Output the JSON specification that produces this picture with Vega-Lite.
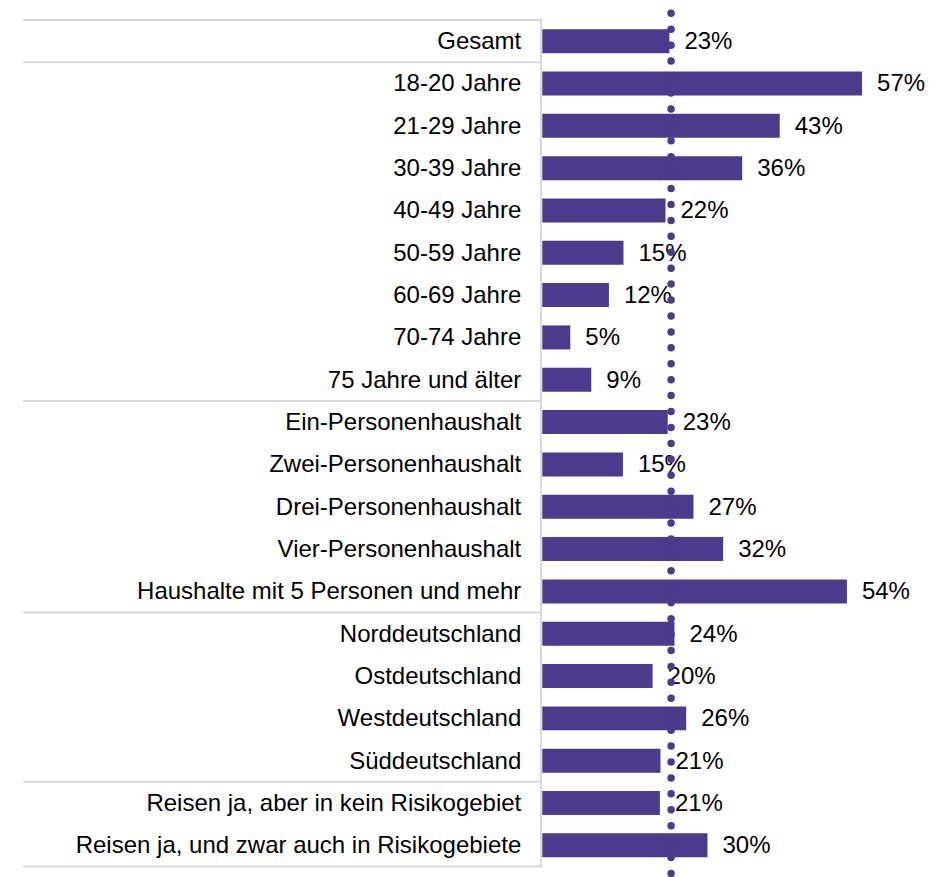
{
  "$schema": "https://vega.github.io/schema/vega-lite/v6.json",
  "width": 935,
  "height": 877,
  "autosize": {"type": "none"},
  "padding": 0,
  "background": "#ffffff",
  "config": {"view": {"stroke": null}, "font": "Liberation Sans"},
  "data": {
    "values": [
      {"cat": "Gesamt", "value": 0.227, "label": "23%", "group": "Gesamt"},
      {"cat": "18-20 Jahre", "value": 0.571, "label": "57%", "group": "Alter"},
      {"cat": "21-29 Jahre", "value": 0.424, "label": "43%", "group": "Alter"},
      {"cat": "30-39 Jahre", "value": 0.357, "label": "36%", "group": "Alter"},
      {"cat": "40-49 Jahre", "value": 0.220, "label": "22%", "group": "Alter"},
      {"cat": "50-59 Jahre", "value": 0.145, "label": "15%", "group": "Alter"},
      {"cat": "60-69 Jahre", "value": 0.119, "label": "12%", "group": "Alter"},
      {"cat": "70-74 Jahre", "value": 0.050, "label": "5%", "group": "Alter"},
      {"cat": "75 Jahre und älter", "value": 0.0875, "label": "9%", "group": "Alter"},
      {"cat": "Ein-Personenhaushalt", "value": 0.224, "label": "23%", "group": "Haushalt"},
      {"cat": "Zwei-Personenhaushalt", "value": 0.144, "label": "15%", "group": "Haushalt"},
      {"cat": "Drei-Personenhaushalt", "value": 0.270, "label": "27%", "group": "Haushalt"},
      {"cat": "Vier-Personenhaushalt", "value": 0.323, "label": "32%", "group": "Haushalt"},
      {"cat": "Haushalte mit 5 Personen und mehr", "value": 0.544, "label": "54%", "group": "Haushalt"},
      {"cat": "Norddeutschland", "value": 0.236, "label": "24%", "group": "Region"},
      {"cat": "Ostdeutschland", "value": 0.197, "label": "20%", "group": "Region"},
      {"cat": "Westdeutschland", "value": 0.257, "label": "26%", "group": "Region"},
      {"cat": "Süddeutschland", "value": 0.211, "label": "21%", "group": "Region"},
      {"cat": "Reisen ja, aber in kein Risikogebiet", "value": 0.210, "label": "21%", "group": "Reisen"},
      {"cat": "Reisen ja, und zwar auch in Risikogebiete", "value": 0.295, "label": "30%", "group": "Reisen"}
    ]
  },
  "transform": [
    {"window": [{"op": "row_number", "as": "rn"}], "groupby": ["group"]}
  ],
  "layer": [
    {
      "mark": {"type": "rule", "color": "#d9d9d9", "strokeWidth": 2},
      "encoding": {
        "x": {"datum": -0.9273, "type": "quantitative", "axis": null,
              "scale": {"domain": [-0.9684, 0.7013], "nice": false, "zero": false}},
        "x2": {"datum": 0},
        "y": {"field": "cat", "type": "nominal", "sort": null, "axis": null, "bandPosition": 0,
              "scale": {"paddingInner": 0, "paddingOuter": 0.36, "align": 0.656}},
        "strokeOpacity": {"condition": {"test": "datum.rn == 1", "value": 1}, "value": 0}
      }
    },
    {
      "mark": {"type": "rule", "color": "#d9d9d9", "strokeWidth": 2},
      "encoding": {
        "x": {"datum": -0.9273, "type": "quantitative"},
        "x2": {"datum": 0},
        "y": {"field": "cat", "type": "nominal", "sort": null, "bandPosition": 1},
        "strokeOpacity": {"condition": {"test": "datum.cat == 'Reisen ja, und zwar auch in Risikogebiete'", "value": 1}, "value": 0}
      }
    },
    {
      "mark": {"type": "bar", "color": "#d9d9d9", "height": {"band": 1}},
      "encoding": {
        "x": {"datum": -0.0041, "type": "quantitative"},
        "x2": {"datum": -0.0005},
        "y": {"field": "cat", "type": "nominal", "sort": null}
      }
    },
    {
      "mark": {"type": "bar", "color": "#4c3a8c", "height": {"band": 0.567}},
      "encoding": {
        "x": {"field": "value", "type": "quantitative"},
        "y": {"field": "cat", "type": "nominal", "sort": null}
      }
    },
    {
      "mark": {"type": "text", "align": "right", "baseline": "middle", "dx": -21, "dy": 1, "fontSize": 24, "color": "#000000"},
      "encoding": {
        "x": {"datum": 0, "type": "quantitative"},
        "y": {"field": "cat", "type": "nominal", "sort": null},
        "text": {"field": "cat"}
      }
    },
    {
      "mark": {"type": "text", "align": "left", "baseline": "middle", "dx": 15, "dy": 1, "fontSize": 24, "color": "#000000"},
      "encoding": {
        "x": {"field": "value", "type": "quantitative"},
        "y": {"field": "cat", "type": "nominal", "sort": null},
        "text": {"field": "label"}
      }
    },
    {
      "transform": [{"filter": "datum.cat == 'Gesamt'"}],
      "mark": {"type": "rule", "color": "#4c3a8c", "strokeWidth": 7.5, "strokeCap": "round", "strokeDash": [0, 15.93], "strokeDashOffset": 2.63},
      "encoding": {
        "x": {"datum": 0.23, "type": "quantitative"}
      }
    }
  ]
}
